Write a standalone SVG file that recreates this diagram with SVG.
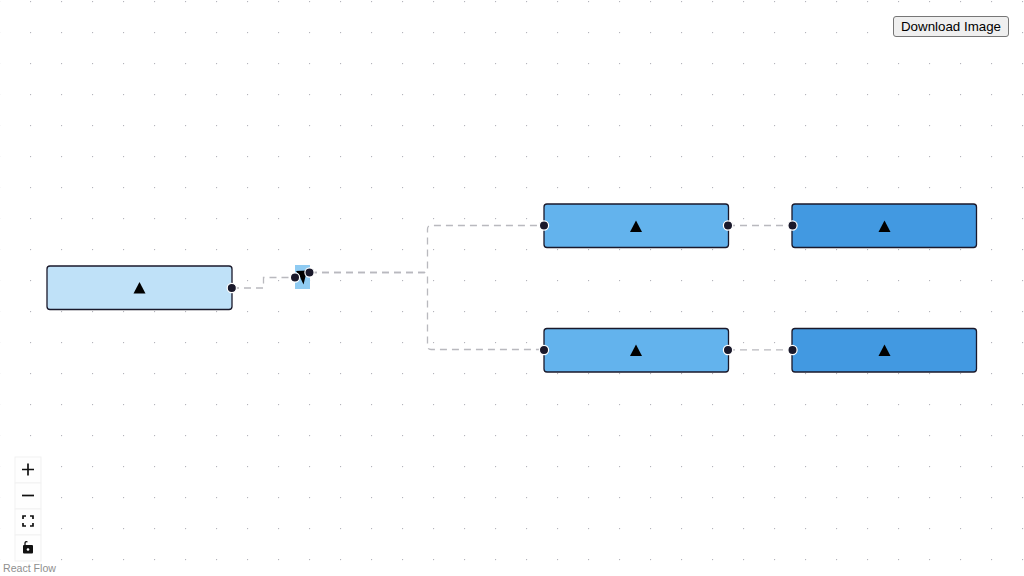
<svg xmlns="http://www.w3.org/2000/svg" width="1024" height="576" viewBox="0 0 1024 576">
<style>
.n{stroke:#1a192b;stroke-width:1.3}
.h{fill:#1a192b;stroke:#fff;stroke-width:1.2}
.t{fill:#000}
.e{fill:none;stroke:#b9b9be;stroke-width:1.3;stroke-dasharray:7 5}
.c{fill:#fefefe;stroke:#f1f1f1;stroke-width:1}
.i{fill:none;stroke:#111;stroke-width:1.7}
</style>
<defs>
<pattern id="dots" x="30" y="1" width="31" height="31" patternUnits="userSpaceOnUse">
<circle cx="0.6" cy="0.6" r="0.6" fill="#a4a4ac"/>
</pattern>
</defs>
<rect width="1024" height="576" fill="#fff"/>
<rect width="1024" height="576" fill="url(#dots)"/>
<g id="connectors">
<path class="e" d="M232 288H263.500V277.500H295"/>
<path class="e" d="M310 272.500H424Q427.500 272.500 427.500 269V229Q427.500 225.500 431 225.500H544"/>
<path class="e" d="M310 272.500H424Q427.500 272.500 427.500 276V346Q427.500 349.500 431 349.500H544"/>
<path class="e" d="M728 225.500H792"/>
<path class="e" d="M728 349.800H792"/>
</g>
<g id="node-1">
<rect class="n" x="47" y="266" width="185" height="43.500" rx="3" fill="#bfe1f8"/>
<path class="t" d="M139.500 282L145.500 293.500H133.500Z"/>
<circle class="h" cx="231.800" cy="288" r="4.600"/>
</g>
<g id="node-2">
<rect x="295" y="265" width="15" height="24" fill="#8fcbf2"/>
<path class="t" d="M296 271L307 270.500L303.500 284.500L300 277Z"/>
<circle class="h" cx="295" cy="277.500" r="4.600"/>
<circle class="h" cx="309.500" cy="272.500" r="4.600"/>
</g>
<g id="node-3">
<rect class="n" x="544" y="204" width="184.500" height="43.500" rx="3" fill="#63b3ed"/>
<path class="t" d="M636 220.500L642 232H630Z"/>
<circle class="h" cx="544" cy="225.500" r="4.600"/>
<circle class="h" cx="728" cy="225.500" r="4.600"/>
</g>
<g id="node-4">
<rect class="n" x="544" y="328.500" width="184.500" height="43.500" rx="3" fill="#63b3ed"/>
<path class="t" d="M636 344.500L642 356H630Z"/>
<circle class="h" cx="544" cy="350" r="4.600"/>
<circle class="h" cx="728" cy="350" r="4.600"/>
</g>
<g id="node-5">
<rect class="n" x="792" y="204" width="184.500" height="43.500" rx="3" fill="#4299e1"/>
<path class="t" d="M884.500 220.500L890.500 232H878.500Z"/>
<circle class="h" cx="792.500" cy="225.500" r="4.600"/>
</g>
<g id="node-6">
<rect class="n" x="792" y="328.500" width="184.500" height="43.500" rx="3" fill="#4299e1"/>
<path class="t" d="M884.500 344.500L890.500 356H878.500Z"/>
<circle class="h" cx="792.500" cy="350" r="4.600"/>
</g>
<g id="download-button">
<rect x="893.500" y="16.500" width="115" height="20" rx="2.500" fill="#efefef" stroke="#767676"/>
<text x="951" y="31" font-family="Liberation Sans, Arial, sans-serif" font-size="13.330" text-anchor="middle" fill="#000">Download Image</text>
</g>
<g id="controls">
<rect class="c" x="15" y="457" width="26" height="26"/>
<rect class="c" x="15" y="483" width="26" height="26"/>
<rect class="c" x="15" y="509" width="26" height="26"/>
<rect class="c" x="15" y="535" width="26" height="26"/>
<path class="i" d="M22 469.500H34M28 463.500V475.500"/>
<path class="i" d="M22 495.500H34"/>
<path class="i" d="M23 519V516H26M30 516H33V519M33 523V526H30M26 526H23V523"/>
<rect x="23" y="545" width="10" height="8.500" rx="1" fill="#111"/>
<path d="M25 545V543.500Q25 541 27.500 542" fill="none" stroke="#111" stroke-width="1.300"/>
<circle cx="28" cy="549.500" r="1.300" fill="#fff"/>
</g>
<text id="attribution" x="3" y="572" font-family="Liberation Sans, Arial, sans-serif" font-size="10.600" fill="#8f8f8f">React Flow</text>
</svg>
